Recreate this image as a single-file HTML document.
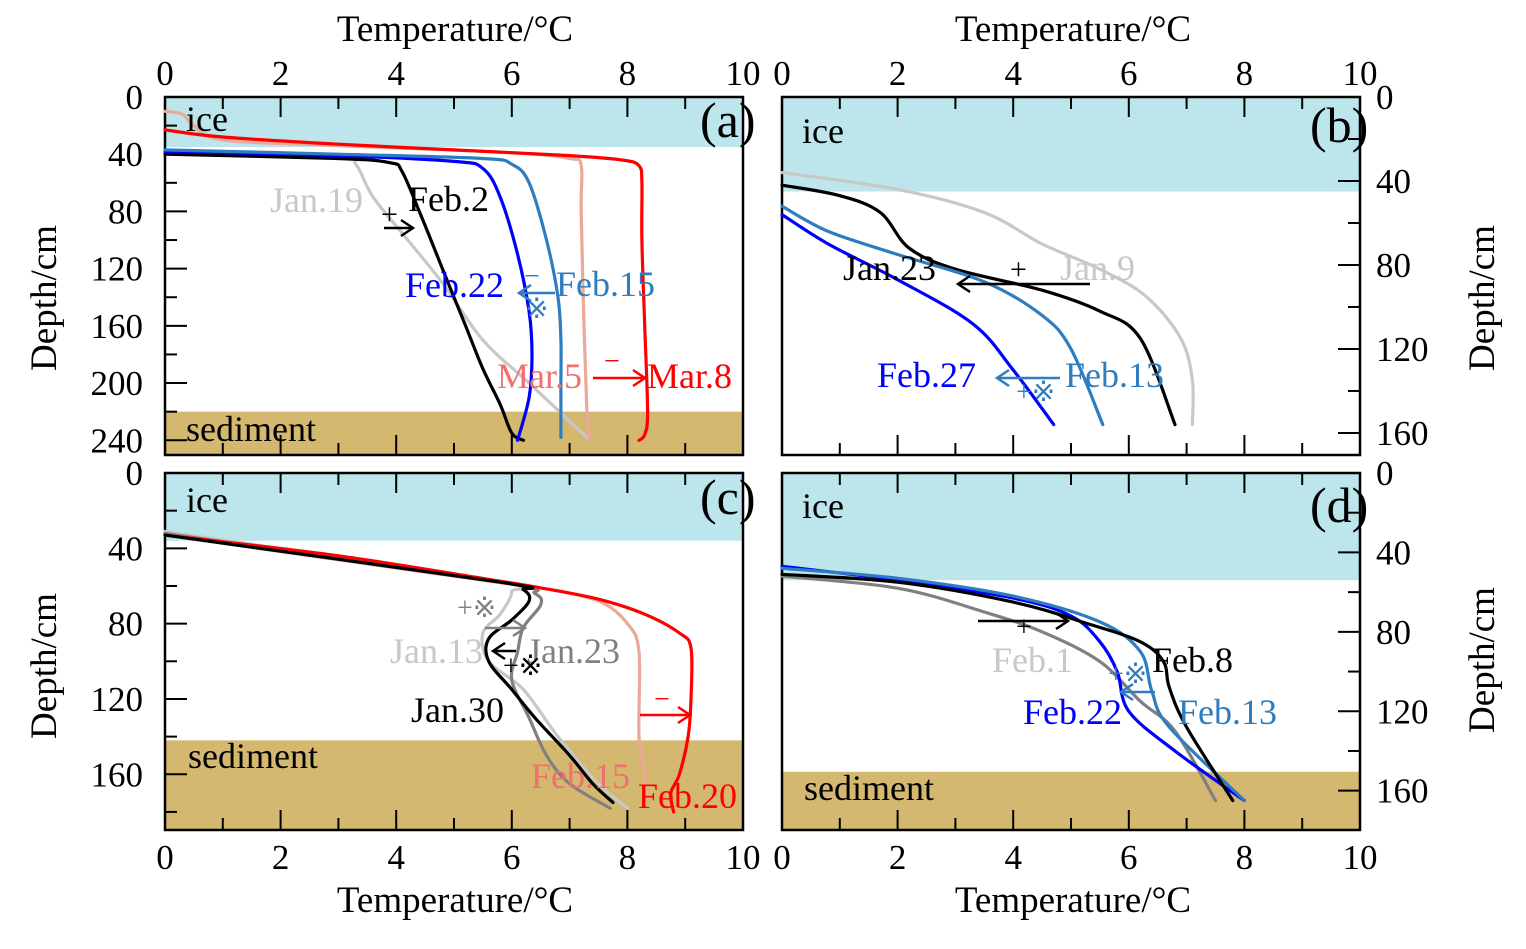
<!DOCTYPE html>
<html><head><meta charset="utf-8"><style>
html,body{margin:0;padding:0;background:#fff;}
svg text{font-family:"Liberation Serif",serif;}
</style></head><body>
<svg id="c" width="1526" height="944" viewBox="0 0 1526 944" xmlns="http://www.w3.org/2000/svg"></svg>
<script>
// ---- data: [temperature °C, depth cm] pairs per series ----
const aMar8=[[0,23],[1,28],[3,33],[5,37],[7,41],[7.9,44],[8.2,48],[8.25,60],[8.25,100],[8.3,160],[8.35,220],[8.3,236],[8.2,240]];
const aMar5=[[0,10],[0.3,12],[0.5,20],[1,30],[3,34],[6,39],[7,43],[7.2,48],[7.2,80],[7.25,160],[7.3,220],[7.35,240]];
const aFeb15=[[0,37],[3,40],[5.5,43],[6,47],[6.3,60],[6.6,100],[6.8,140],[6.85,170],[6.85,200],[6.85,238]];
const aFeb22=[[0,38],[3,41],[5,45],[5.5,50],[5.8,70],[6.1,110],[6.3,150],[6.35,180],[6.3,210],[6.1,240]];
const aFeb2=[[0,40],[3,43],[3.9,46],[4.1,52],[4.4,80],[4.8,120],[5.2,160],[5.5,190],[5.8,215],[6.0,235],[6.2,240]];
const aJan19=[[0,38],[3,43],[3.3,47],[3.6,70],[4.2,100],[4.8,130],[5.5,170],[6.3,200],[7.3,238]];
const bJan9=[[0,36],[2,44],[3.5,55],[4.5,70],[5.5,82],[6.3,95],[6.9,115],[7.1,135],[7.1,156]];
const bJan23=[[0,42],[1,47],[1.7,55],[2.2,72],[3,82],[4.5,92],[5.5,102],[6.2,115],[6.8,156]];
const bFeb13=[[0,52],[0.8,64],[2,75],[3.5,88],[4.5,104],[5,120],[5.55,156]];
const bFeb27=[[0,56],[0.8,70],[2,87],[3.3,108],[4,130],[4.7,156]];
const cFeb20=[[0,33],[3,44],[5.5,56],[6.5,61],[7.5,67],[8.3,75],[8.9,85],[9.1,93],[9.1,120],[9.05,140],[8.9,160],[8.75,170],[8.8,180]];
const cFeb15=[[0,33],[5.5,57],[6.5,61],[7.5,68],[8,80],[8.2,95],[8.2,140],[8.3,160],[8.3,177]];
const cJan13=[[0,31],[5.8,58],[6,63],[5.8,75],[5.5,85],[5.6,100],[6.2,115],[6.8,140],[7.5,165],[8.0,178]];
const cJan23=[[0,32],[5.8,58],[6.4,64],[6.5,70],[6.2,82],[6.1,95],[6.0,110],[6.3,130],[6.6,150],[7,165],[7.7,178]];
const cJan30=[[0,33],[5.8,58],[6.2,62],[6.3,68],[6.0,78],[5.6,88],[5.6,100],[6.0,115],[6.4,130],[7.0,150],[7.4,165],[7.75,175]];
const dFeb1=[[0,52],[2,58],[3.5,70],[4.5,80],[5.5,95],[6.2,115],[6.8,130],[7.5,165]];
const dFeb8=[[0,51],[2,55],[4,65],[5.3,76],[6.2,85],[6.6,95],[6.7,108],[7,128],[7.8,165]];
const dFeb13=[[0,48],[2,53],[4,62],[5.5,75],[6.2,90],[6.4,110],[6.7,128],[8,165]];
const dFeb22=[[0,47],[2,54],[4,63],[5,72],[5.5,85],[5.8,100],[6,120],[6.8,140],[8,165]];
const tempTicks=[0,2,4,6,8,10];

const NS="http://www.w3.org/2000/svg";
const svg=document.getElementById('c');
function mk(t,a,p){const e=document.createElementNS(NS,t);for(const k in a)e.setAttribute(k,a[k]);(p||svg).appendChild(e);return e;}
function txt(s,x,y,size,fill,anchor,p){const e=mk('text',{x:x,y:y,'font-size':size,fill:fill||'#000','text-anchor':anchor||'start'},p);e.textContent=s;return e;}

const panels={
 a:{x0:165,x1:743,y0:97,y1:455,dmax:250.3,ice:35,sed:220,dt:[0,40,80,120,160,200,240],side:'L',top:true},
 b:{x0:782,x1:1360,y0:97,y1:455,dmax:170.5,ice:45,sed:null,dt:[0,40,80,120,160],side:'R',top:true},
 c:{x0:165,x1:743,y0:473,y1:830,dmax:189.6,ice:36,sed:142,dt:[0,40,80,120,160],side:'L',top:false},
 d:{x0:782,x1:1360,y0:473,y1:830,dmax:179.8,ice:54,sed:150.5,dt:[0,40,80,120,160],side:'R',top:false}
};
function sx(p,t){return p.x0+(p.x1-p.x0)*t/10;}
function sy(p,d){return p.y0+(p.y1-p.y0)*d/p.dmax;}

for(const k in panels){
 const p=panels[k];
 const g=mk('g',{});
 
 
 const ice=mk('rect',{x:p.x0,y:p.y0,width:p.x1-p.x0,height:sy(p,p.ice)-p.y0,fill:'#bce6ec'},g);
 
 
 if(p.sed!==null){const s=mk('rect',{x:p.x0,y:sy(p,p.sed),width:p.x1-p.x0,height:p.y1-sy(p,p.sed),fill:'#d4b870'},g);
 
 }
 for(let t=0;t<=10;t++){const x=sx(p,t);const L=t%2===0?20:12;
  mk('line',{x1:x,y1:p.y0,x2:x,y2:p.y0+L,stroke:'#000','stroke-width':2},g);
  mk('line',{x1:x,y1:p.y1,x2:x,y2:p.y1-L,stroke:'#000','stroke-width':2},g);}
 tempTicks.forEach(t=>{const ty=p.top?p.y0-12:p.y1+39;
  const e=txt(String(t),sx(p,t),ty,35,'#000','middle',g);
  
  });
 for(let d=20;d<p.dmax;d+=20){const y=sy(p,d);const L=d%40===0?22:12;
  if(p.side==='L')mk('line',{x1:p.x0,y1:y,x2:p.x0+L,y2:y,stroke:'#000','stroke-width':2},g);
  else mk('line',{x1:p.x1,y1:y,x2:p.x1-L,y2:y,stroke:'#000','stroke-width':2},g);}
 p.dt.forEach(d=>{const y=sy(p,d)+12;
  const e=p.side==='L'?txt(String(d),p.x0-22,y,35,'#000','end',g):txt(String(d),p.x1+16,y,35,'#000','start',g);
  
  });
 mk('rect',{x:p.x0,y:p.y0,width:p.x1-p.x0,height:p.y1-p.y0,fill:'none',stroke:'#000','stroke-width':2.5},g);
 p.g=g;
}
function series(k,data,color,name){const p=panels[k];
 const P=data.map(v=>[sx(p,v[0]),sy(p,v[1])]);
 let d='M'+P[0][0].toFixed(1)+' '+P[0][1].toFixed(1);
 for(let i=0;i<P.length-1;i++){const p0=P[Math.max(i-1,0)],p1=P[i],p2=P[i+1],p3=P[Math.min(i+2,P.length-1)];
  const c1=[p1[0]+(p2[0]-p0[0])/6,p1[1]+(p2[1]-p0[1])/6],c2=[p2[0]-(p3[0]-p1[0])/6,p2[1]-(p3[1]-p1[1])/6];
  d+=` C${c1[0].toFixed(1)} ${c1[1].toFixed(1)} ${c2[0].toFixed(1)} ${c2[1].toFixed(1)} ${p2[0].toFixed(1)} ${p2[1].toFixed(1)}`;}
 const e=mk('path',{d:d,fill:'none',stroke:color,'stroke-width':3.2,'stroke-linejoin':'round','stroke-linecap':'round'},p.g);
 
 }
series('a',aJan19,'#c8c8c8','line-jan19');series('a',aFeb2,'#000','line-feb2');series('a',aFeb22,'#0000ff','line-feb22');
series('a',aFeb15,'#2e7dc0','line-feb15');series('a',aMar5,'#eca898','line-mar5');series('a',aMar8,'#ff0000','line-mar8');
series('b',bJan9,'#c8c8c8','line-jan9');series('b',bJan23,'#000','line-jan23');series('b',bFeb13,'#2e7dc0','line-feb13');series('b',bFeb27,'#0000ff','line-feb27');
series('c',cJan13,'#c8c8c8','line-jan13');series('c',cJan23,'#808080','line-jan23');series('c',cFeb15,'#eca898','line-feb15');series('c',cFeb20,'#ff0000','line-feb20');series('c',cJan30,'#000','line-jan30');
series('d',dFeb1,'#808080','line-feb1');series('d',dFeb22,'#0000ff','line-feb22');series('d',dFeb13,'#2e7dc0','line-feb13');series('d',dFeb8,'#000','line-feb8');

function lab(s,x,y,c,n,sz){const e=txt(s,x,y,sz||36,c);return e;}
function arrow(x1,y,x2,c){mk('line',{x1:x1,y1:y,x2:x2,y2:y,stroke:c,'stroke-width':2.5});const s=x2>x1?-1:1;
 mk('path',{d:`M${x2+s*12} ${y-8} L${x2} ${y} L${x2+s*12} ${y+8}`,fill:'none',stroke:c,'stroke-width':2.5});}
lab('ice',186,131,'#000','ice-label-a');lab('sediment',186,441,'#000','sediment-label-a');
lab('ice',802,143,'#000','ice-label-b');
lab('ice',186,512,'#000','ice-label-c');lab('sediment',188,768,'#000','sediment-label-c');
lab('ice',802,518,'#000','ice-label-d');lab('sediment',804,800,'#000','sediment-label-d');
lab('(a)',700,137,'#000','panel-label-a',50);lab('(b)',1310,142,'#000','panel-label-b',50);
lab('(c)',700,514,'#000','panel-label-c',50);lab('(d)',1310,522,'#000','panel-label-d',50);
lab('Jan.19',270,212,'#c8c8c8','label-jan19');lab('Feb.2',408,211,'#000','label-feb2');
lab('Feb.22',405,297,'#0000ff','label-feb22');lab('Feb.15',556,296,'#2e7dc0','label-feb15');
lab('Mar.5',497,388,'#f07070','label-mar5');lab('Mar.8',647,388,'#ff0000','label-mar8');
arrow(384,228,413,'#000');txt('+',381,224,30,'#000');
arrow(555,293,519,'#2e7dc0');txt('−',524,285,28,'#2e7dc0');txt('※',525,318,28,'#2e7dc0');
arrow(593,378,645,'#ff0000');txt('−',604,370,28,'#ff0000');
lab('Jan.23',843,280,'#000','label-jan23-b');lab('Jan.9',1060,280,'#c8c8c8','label-jan9');
arrow(1090,284,958,'#000');txt('+',1010,279,30,'#000');
lab('Feb.27',877,387,'#0000ff','label-feb27');lab('Feb.13',1065,387,'#2e7dc0','label-feb13-b');
arrow(1060,378,997,'#2e7dc0');txt('+※',1016,401,28,'#2e7dc0');
lab('Jan.13',390,663,'#c8c8c8','label-jan13');lab('Jan.23',527,663,'#808080','label-jan23-c');
lab('Jan.30',411,722,'#000','label-jan30');lab('Feb.15',531,788,'#f07070','label-feb15-c');lab('Feb.20',638,808,'#ff0000','label-feb20');
arrow(485,628,525,'#808080');txt('+※',457,617,28,'#808080');
arrow(516,651,493,'#000');txt('+※',503,675,28,'#000');
arrow(640,715,690,'#ff0000');txt('−',654,708,28,'#ff0000');
lab('Feb.1',992,672,'#c8c8c8','label-feb1');lab('Feb.8',1152,672,'#000','label-feb8');
lab('Feb.22',1023,724,'#0000ff','label-feb22-d');lab('Feb.13',1178,724,'#2e7dc0','label-feb13-d');
arrow(978,621,1068,'#000');txt('+',1016,636,28,'#000');
arrow(1155,692,1121,'#2e7dc0');txt('+※',1108,683,28,'#2e7dc0');
function title(s,x,y,rot,n){const e=txt(s,x,y,37,'#000','middle');if(rot)e.setAttribute('transform',`rotate(-90 ${x} ${y})`);}
title('Temperature/°C',455,41,false,'x-axis-title-top-left');title('Temperature/°C',1073,41,false,'x-axis-title-top-right');
title('Temperature/°C',455,912,false,'x-axis-title-bottom-left');title('Temperature/°C',1073,912,false,'x-axis-title-bottom-right');
title('Depth/cm',56,298,true,'y-axis-title-a');title('Depth/cm',56,666,true,'y-axis-title-c');
title('Depth/cm',1494,298,true,'y-axis-title-b');title('Depth/cm',1494,660,true,'y-axis-title-d');
</script>
</body></html>
